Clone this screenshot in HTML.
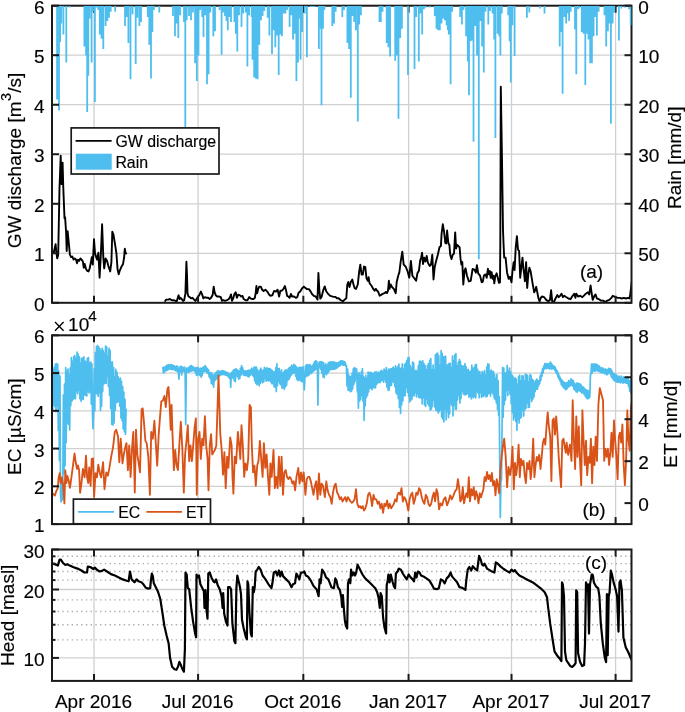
<!DOCTYPE html>
<html><head><meta charset="utf-8"><style>
html,body{margin:0;padding:0;background:#fff;}
svg{display:block;will-change:transform;}
text{font-family:"Liberation Sans", sans-serif;font-size:19px;fill:#000;stroke:#000;stroke-width:0.15px;}
</style></head><body>
<svg width="685" height="712" viewBox="0 0 685 712">
<defs><clipPath id="ca"><rect x="52.0" y="5.7" width="579.5" height="297.1"/></clipPath><clipPath id="cb"><rect x="52.0" y="335.3" width="579.5" height="188.8"/></clipPath><clipPath id="cc"><rect x="52.0" y="549.5" width="579.5" height="131.39999999999998"/></clipPath></defs>
<rect width="685" height="712" fill="#fff"/>
<line x1="94.0" y1="5.7" x2="94.0" y2="302.8" stroke="#d0d0d0" stroke-width="1.3"/><line x1="198.1" y1="5.7" x2="198.1" y2="302.8" stroke="#d0d0d0" stroke-width="1.3"/><line x1="303.3" y1="5.7" x2="303.3" y2="302.8" stroke="#d0d0d0" stroke-width="1.3"/><line x1="408.6" y1="5.7" x2="408.6" y2="302.8" stroke="#d0d0d0" stroke-width="1.3"/><line x1="511.5" y1="5.7" x2="511.5" y2="302.8" stroke="#d0d0d0" stroke-width="1.3"/><line x1="615.6" y1="5.7" x2="615.6" y2="302.8" stroke="#d0d0d0" stroke-width="1.3"/><line x1="94.0" y1="335.3" x2="94.0" y2="524.1" stroke="#d0d0d0" stroke-width="1.3"/><line x1="198.1" y1="335.3" x2="198.1" y2="524.1" stroke="#d0d0d0" stroke-width="1.3"/><line x1="303.3" y1="335.3" x2="303.3" y2="524.1" stroke="#d0d0d0" stroke-width="1.3"/><line x1="408.6" y1="335.3" x2="408.6" y2="524.1" stroke="#d0d0d0" stroke-width="1.3"/><line x1="511.5" y1="335.3" x2="511.5" y2="524.1" stroke="#d0d0d0" stroke-width="1.3"/><line x1="615.6" y1="335.3" x2="615.6" y2="524.1" stroke="#d0d0d0" stroke-width="1.3"/><line x1="94.0" y1="549.5" x2="94.0" y2="680.9" stroke="#d0d0d0" stroke-width="1.3"/><line x1="198.1" y1="549.5" x2="198.1" y2="680.9" stroke="#d0d0d0" stroke-width="1.3"/><line x1="303.3" y1="549.5" x2="303.3" y2="680.9" stroke="#d0d0d0" stroke-width="1.3"/><line x1="408.6" y1="549.5" x2="408.6" y2="680.9" stroke="#d0d0d0" stroke-width="1.3"/><line x1="511.5" y1="549.5" x2="511.5" y2="680.9" stroke="#d0d0d0" stroke-width="1.3"/><line x1="615.6" y1="549.5" x2="615.6" y2="680.9" stroke="#d0d0d0" stroke-width="1.3"/><line x1="52.0" y1="253.3" x2="631.5" y2="253.3" stroke="#d0d0d0" stroke-width="1.3"/><line x1="52.0" y1="203.8" x2="631.5" y2="203.8" stroke="#d0d0d0" stroke-width="1.3"/><line x1="52.0" y1="154.2" x2="631.5" y2="154.2" stroke="#d0d0d0" stroke-width="1.3"/><line x1="52.0" y1="104.7" x2="631.5" y2="104.7" stroke="#d0d0d0" stroke-width="1.3"/><line x1="52.0" y1="55.2" x2="631.5" y2="55.2" stroke="#d0d0d0" stroke-width="1.3"/><line x1="52.0" y1="486.3" x2="631.5" y2="486.3" stroke="#d0d0d0" stroke-width="1.3"/><line x1="52.0" y1="448.6" x2="631.5" y2="448.6" stroke="#d0d0d0" stroke-width="1.3"/><line x1="52.0" y1="410.8" x2="631.5" y2="410.8" stroke="#d0d0d0" stroke-width="1.3"/><line x1="52.0" y1="373.1" x2="631.5" y2="373.1" stroke="#d0d0d0" stroke-width="1.3"/><line x1="52.0" y1="657.9" x2="631.5" y2="657.9" stroke="#d0d0d0" stroke-width="1.3"/><line x1="52.0" y1="589.5" x2="631.5" y2="589.5" stroke="#d0d0d0" stroke-width="1.3"/><line x1="57.5" y1="639.9" x2="631.5" y2="639.9" stroke="#acacac" stroke-width="1.4" stroke-dasharray="1.4 3.33"/><line x1="57.5" y1="624.7" x2="631.5" y2="624.7" stroke="#acacac" stroke-width="1.4" stroke-dasharray="1.4 3.33"/><line x1="57.5" y1="611.5" x2="631.5" y2="611.5" stroke="#acacac" stroke-width="1.4" stroke-dasharray="1.4 3.33"/><line x1="57.5" y1="599.9" x2="631.5" y2="599.9" stroke="#acacac" stroke-width="1.4" stroke-dasharray="1.4 3.33"/><line x1="57.5" y1="580.1" x2="631.5" y2="580.1" stroke="#acacac" stroke-width="1.4" stroke-dasharray="1.4 3.33"/><line x1="57.5" y1="571.5" x2="631.5" y2="571.5" stroke="#acacac" stroke-width="1.4" stroke-dasharray="1.4 3.33"/><line x1="57.5" y1="563.6" x2="631.5" y2="563.6" stroke="#acacac" stroke-width="1.4" stroke-dasharray="1.4 3.33"/><line x1="57.5" y1="556.3" x2="631.5" y2="556.3" stroke="#acacac" stroke-width="1.4" stroke-dasharray="1.4 3.33"/><path d="M52.2 252.8 53.7 252.8 55.6 244.1 56.2 250.9 57.2 258.4 58.2 255.0 59.5 188.0 60.7 155.7 61.4 184.1 62.6 162.6 63.3 188.0 64.5 218.3 65.1 217.4 66.1 232.3 66.7 251.0 67.6 231.1 68.6 241.0 69.9 254.7 71.1 257.1 72.3 256.5 73.6 259.6 74.8 258.4 76.0 259.6 77.0 263.3 77.9 259.6 79.2 260.9 80.4 258.4 81.6 259.6 82.9 261.5 83.7 267.7 84.7 264.0 86.0 268.9 87.2 270.8 88.5 271.4 89.7 268.3 90.9 262.1 91.8 257.1 92.8 264.6 94.0 239.2 95.0 253.4 96.2 257.1 97.1 259.6 98.4 252.8 99.6 277.6 100.9 253.4 102.1 224.3 103.3 257.1 104.2 268.3 105.6 258.4 107.1 260.9 108.3 265.8 110.2 271.4 111.4 262.1 112.3 231.7 113.5 234.8 115.1 244.7 116.4 253.4 117.6 269.6 118.7 274.3 119.8 270.6 121.4 266.8 123.0 264.2 124.1 257.7 124.8 248.7 125.5 252.9 126.2 253.5M165.2 301.0 166.2 299.6 168.1 299.6 169.9 299.0 171.8 300.2 173.6 300.2 175.5 300.9 176.7 301.5 178.0 297.1 178.6 295.3 179.6 299.0 180.5 297.8 181.7 299.0 183.0 300.9 184.2 300.2 185.4 293.4 186.4 261.8 187.0 274.8 187.5 293.4 188.5 296.5 189.8 297.1 191.0 298.4 192.5 297.8 194.1 299.6 195.4 300.9 196.6 299.0 197.8 297.1 199.5 294.7 200.9 291.6 202.2 294.7 203.4 298.4 204.9 297.1 206.5 297.8 208.4 297.8 209.6 299.0 211.1 297.8 212.7 294.7 213.7 286.6 214.6 292.2 215.8 295.3 217.1 296.5 218.9 296.5 220.8 297.1 222.0 300.9 223.3 300.2 225.1 300.9 227.0 300.2 228.9 299.0 230.1 297.1 231.0 294.4 232.0 300.9 233.2 298.4 234.4 294.0 235.7 292.2 236.9 297.8 238.2 294.7 240.0 295.3 241.2 296.5 242.5 295.9 243.7 299.0 245.6 300.2 247.4 300.2 249.3 297.1 250.5 298.4 251.8 299.0 253.6 299.0 254.9 297.8 255.8 292.2 256.4 286.0 257.1 293.4 258.0 289.7 259.2 286.6 260.8 286.6 262.1 289.7 263.6 291.0 265.4 289.7 267.3 291.6 269.2 294.7 270.4 295.7 272.3 295.3 274.1 291.0 276.0 291.6 277.6 289.7 279.1 296.5 280.3 291.0 282.2 290.3 283.7 288.5 284.9 286.0 286.2 291.0 287.1 295.9 288.4 296.5 289.6 297.8 290.9 294.0 292.1 296.5 294.0 296.5 295.8 297.8 297.3 297.1 298.6 292.8 300.2 291.6 302.0 288.5 303.9 286.6 305.1 287.8 307.0 289.1 308.9 289.1 310.7 291.6 312.0 294.0 313.8 295.9 315.7 296.5 317.5 299.6 318.4 273.0 319.4 291.0 320.3 298.6 321.6 296.9 323.1 290.7 324.7 286.4 326.2 291.3 328.1 293.8 329.9 295.7 331.8 296.3 333.6 296.9 335.5 296.9 336.7 298.2 338.6 298.2 340.5 300.0 343.0 301.3 344.8 299.4 346.3 298.2 347.3 284.5 348.3 282.0 349.5 287.0 350.8 282.0 352.3 279.6 353.5 284.5 354.7 288.2 356.0 288.9 357.8 284.5 359.1 272.1 360.3 264.7 361.6 274.6 362.8 274.6 364.0 266.5 365.3 267.1 366.5 278.3 367.8 280.8 368.6 277.1 369.6 283.3 371.5 285.8 373.3 288.9 374.6 290.7 375.8 288.9 377.1 290.7 378.3 292.0 379.6 295.7 380.8 295.1 382.7 293.8 384.5 293.2 385.8 292.0 387.0 293.2 388.0 290.7 388.9 280.8 389.5 288.9 390.7 284.5 392.0 287.0 393.8 288.9 395.7 293.2 396.7 282.0 398.2 275.8 399.4 272.1 400.6 262.2 402.3 251.6 403.7 264.6 405.6 266.5 407.4 270.8 409.3 277.7 410.9 260.9 412.4 275.8 414.3 278.3 416.1 280.8 417.4 273.3 418.9 270.8 420.1 260.9 421.1 257.8 422.1 252.8 423.0 264.0 424.2 257.8 425.4 261.5 426.7 256.0 427.9 262.8 429.8 265.9 431.0 264.6 432.3 254.7 433.5 279.5 434.7 267.1 436.0 261.5 437.8 254.7 439.5 247.3 440.9 246.0 441.6 233.6 442.8 224.3 444.0 231.1 445.3 242.9 446.2 243.5 447.1 230.5 448.4 243.5 449.4 244.8 450.2 254.7 451.5 259.0 452.7 254.7 454.0 253.5 455.2 232.4 456.1 248.5 457.1 244.8 458.3 246.0 459.6 247.3 460.5 258.4 461.4 264.6 462.3 262.1 463.3 284.5 464.5 270.8 465.5 268.3 467.0 275.8 468.9 281.4 470.7 280.8 472.6 269.0 474.4 269.6 475.9 272.7 476.9 265.2 478.2 273.3 480.0 275.6 481.7 282.3 482.8 281.7 483.9 275.6 485.6 274.4 486.7 277.8 487.9 268.8 488.8 274.4 489.9 271.1 490.7 277.8 491.6 272.2 492.6 278.9 493.5 275.6 494.3 283.4 495.2 276.7 496.6 273.3 497.8 277.8 498.9 282.9 500.0 282.3 500.3 245.2 500.8 86.7 502.0 160.0 503.0 230.0 503.6 245.2 504.2 257.6 505.6 257.6 507.0 272.2 508.7 278.9 510.1 276.7 511.5 282.3 512.6 270.0 513.7 262.1 514.6 270.0 515.7 247.5 516.9 236.2 518.0 249.7 519.1 250.8 520.2 277.8 521.3 267.7 522.5 257.6 523.3 267.7 524.2 274.4 524.9 281.2 526.1 262.1 527.2 287.9 528.3 274.4 529.4 267.7 530.6 271.1 531.7 277.8 532.8 284.6 534.2 292.4 535.3 290.2 536.2 286.8 537.3 292.4 538.4 298.0 539.6 301.4 540.7 298.0 542.1 296.5 544.2 297.2 546.2 299.9 548.3 301.3 550.0 299.9 551.1 290.2 552.2 301.3 553.9 302.0 555.5 298.5 557.3 295.1 558.7 297.2 560.1 295.8 561.5 293.7 562.9 297.2 564.3 295.8 566.4 297.2 568.4 298.5 570.5 299.2 572.6 295.8 574.4 293.7 575.4 297.9 576.3 293.7 578.1 296.5 580.2 295.8 582.3 297.2 583.7 295.8 585.8 293.7 587.9 292.3 589.2 294.4 590.6 285.4 591.6 293.0 592.7 299.9 594.4 295.8 595.5 294.4 596.9 298.5 598.9 299.2 601.0 300.6 603.1 300.6 605.2 302.0 607.3 300.6 609.3 299.9 611.4 297.9 612.8 295.8 614.2 296.5 615.6 297.2 617.7 297.9 619.7 297.9 621.8 298.5 623.9 297.9 626.0 298.5 628.1 297.9 629.5 298.5 630.2 294.4 631.1 287.4 632.0 280.0" fill="none" stroke="#000" stroke-width="1.9" stroke-linejoin="round" stroke-linecap="round" clip-path="url(#ca)" /><path d="M52.0 367.3 52.6 409.8 53.1 369.4 53.7 405.0 54.3 367.2 54.9 406.6 55.4 364.0 56.0 411.8 56.6 363.7 57.1 405.8 57.7 364.4 58.3 430.5 58.8 371.2 59.4 460.5 60.0 376.0 60.5 494.2 61.1 502.0 61.7 478.3 62.3 500.0 62.8 487.8 63.4 395.1 64.0 473.4 64.5 384.2 65.1 465.4 65.7 367.5 66.2 442.4 66.8 371.0 67.4 422.8 68.0 369.0 68.5 424.4 69.1 375.0 69.7 430.0 70.2 368.2 70.8 405.7 71.4 357.6 72.0 401.1 72.5 361.3 73.1 399.3 73.7 356.5 74.2 398.3 74.8 355.7 75.4 398.8 75.9 358.7 76.5 391.8 77.1 352.1 77.7 393.8 78.2 354.2 78.8 390.1 79.4 356.9 79.9 398.6 80.5 363.1 81.1 401.3 81.6 358.3 82.2 398.9 82.8 358.2 83.3 399.4 83.9 356.8 84.5 394.9 85.1 361.2 85.6 395.2 86.2 362.0 86.8 395.9 87.3 358.3 87.9 390.7 88.5 357.5 89.0 393.0 89.6 363.0 90.2 391.8 90.8 362.1 91.3 404.1 91.9 363.8 92.5 415.2 93.0 428.7 93.6 412.7 94.2 368.9 94.8 411.0 95.3 352.6 95.9 393.5 96.5 346.5 97.0 393.7 97.6 345.5 98.2 396.3 98.7 346.9 99.3 392.6 99.9 348.5 100.5 410.3 101.0 351.1 101.6 406.1 102.2 348.3 102.7 391.6 103.3 350.5 103.9 383.9 104.4 353.3 105.0 383.1 105.6 346.2 106.2 383.4 106.7 346.9 107.3 376.3 107.9 356.3 108.4 386.5 109.0 348.3 109.6 395.4 110.1 350.3 110.7 408.5 111.3 362.1 111.8 424.3 112.4 362.0 113.0 424.9 113.6 367.5 114.1 423.0 114.7 377.1 115.3 410.5 115.8 369.4 116.4 402.4 117.0 372.2 117.5 402.1 118.1 376.7 118.7 401.7 119.3 379.0 119.8 406.2 120.4 378.0 121.0 418.0 121.5 381.4 122.1 420.7 122.7 386.5 123.2 428.8 123.8 392.2 124.4 431.7 125.0 399.4 125.5 434.3 126.1 409.3M162.9 367.5 163.5 372.9 164.0 367.0 164.6 372.0 165.2 367.1 165.8 370.6 166.3 365.6 166.9 370.5 167.5 365.2 168.0 369.9 168.6 364.6 169.2 368.8 169.7 365.2 170.3 369.1 170.9 364.7 171.4 369.5 172.0 364.9 172.6 369.6 173.2 365.5 173.7 369.2 174.3 365.9 174.9 370.4 175.4 366.9 176.0 370.7 176.6 366.2 177.2 371.3 177.7 366.3 178.3 371.8 178.9 379.2 179.4 371.1 180.0 366.8 180.6 371.9 181.1 366.2 181.7 375.0 182.3 367.2 182.8 371.4 183.4 367.6 184.0 371.6 184.6 367.2 185.1 371.3 185.7 424.4 186.3 371.5 186.8 368.1 187.4 371.9 188.0 368.1 188.6 372.4 189.1 367.0 189.7 371.6 190.3 365.8 190.8 371.1 191.4 365.5 192.0 370.9 192.5 366.7 193.1 370.1 193.7 367.0 194.2 370.8 194.8 368.4 195.4 372.7 196.0 367.7 196.5 375.4 197.1 367.6 197.7 374.9 198.2 367.6 198.8 374.4 199.4 369.0 199.9 375.5 200.5 368.0 201.1 377.2 201.7 368.5 202.2 375.6 202.8 367.3 203.4 372.0 203.9 366.9 204.5 371.3 205.1 365.7 205.7 371.2 206.2 367.0 206.8 372.7 207.4 368.7 207.9 373.4 208.5 369.8 209.1 376.7 209.6 372.7 210.2 378.4 210.8 372.5 211.3 383.1 211.9 373.0 212.5 384.5 213.1 375.6 213.6 387.1 214.2 374.7 214.8 380.8 215.3 373.1 215.9 379.7 216.5 372.1 217.1 378.5 217.6 370.9 218.2 375.8 218.8 371.0 219.3 376.0 219.9 371.5 220.5 375.4 221.0 371.2 221.6 374.3 222.2 370.6 222.8 374.7 223.3 370.9 223.9 374.5 224.5 371.4 225.0 374.8 225.6 371.7 226.2 375.3 226.7 372.7 227.3 375.7 227.9 372.7 228.4 376.9 229.0 373.9 229.6 378.5 230.2 374.4 230.7 387.4 231.3 372.8 231.9 378.1 232.4 371.4 233.0 377.7 233.6 369.9 234.2 380.7 234.7 369.5 235.3 381.6 235.9 368.5 236.4 376.5 237.0 369.8 237.6 376.7 238.1 370.4 238.7 379.1 239.3 371.4 239.8 378.5 240.4 368.3 241.0 375.1 241.6 365.5 242.1 373.1 242.7 367.9 243.3 375.0 243.8 370.5 244.4 375.4 245.0 370.8 245.6 375.4 246.1 371.1 246.7 375.6 247.3 370.9 247.8 376.5 248.4 370.1 249.0 377.0 249.5 370.6 250.1 375.5 250.7 369.7 251.2 373.8 251.8 368.0 252.4 375.1 253.0 369.3 253.5 376.6 254.1 367.0 254.7 380.9 255.2 367.2 255.8 383.2 256.4 367.2 256.9 384.7 257.5 369.5 258.1 383.8 258.7 371.6 259.2 386.0 259.8 370.1 260.4 383.3 260.9 368.1 261.5 381.1 262.1 370.9 262.6 382.8 263.2 370.2 263.8 381.7 264.4 367.3 264.9 378.4 265.5 369.1 266.1 381.1 266.6 367.9 267.2 380.1 267.8 368.3 268.4 381.0 268.9 368.6 269.5 380.3 270.1 368.7 270.6 381.7 271.2 369.8 271.8 383.7 272.3 370.6 272.9 383.7 273.5 372.0 274.1 386.7 274.6 371.8 275.2 387.5 275.8 367.7 276.3 391.6 276.9 363.7 277.5 385.6 278.0 368.9 278.6 381.1 279.2 368.4 279.8 383.8 280.3 372.1 280.9 384.8 281.5 369.8 282.0 388.2 282.6 373.3 283.2 387.6 283.7 372.1 284.3 389.5 284.9 370.4 285.4 386.9 286.0 369.9 286.6 385.3 287.2 370.7 287.7 380.5 288.3 368.3 288.9 379.4 289.4 367.8 290.0 377.5 290.6 367.0 291.1 375.1 291.7 365.0 292.3 373.8 292.9 366.3 293.4 373.2 294.0 364.4 294.6 372.7 295.1 365.4 295.7 376.3 296.3 366.7 296.9 379.5 297.4 368.0 298.0 380.6 298.6 367.8 299.1 379.4 299.7 367.4 300.3 380.7 300.8 367.3 301.4 381.5 302.0 367.4 302.6 381.7 303.1 366.9 303.7 379.4 304.3 390.0 304.8 380.2 305.4 366.1 306.0 376.6 306.5 364.8 307.1 375.8 307.7 364.7 308.2 375.6 308.8 365.4 309.4 374.7 310.0 364.5 310.5 373.2 311.1 366.3 311.7 373.3 312.2 365.9 312.8 371.7 313.4 364.1 313.9 370.9 314.5 361.9 315.1 369.8 315.7 360.7 316.2 369.1 316.8 361.6 317.4 368.4 317.9 405.1 318.5 368.2 319.1 362.0 319.6 367.6 320.2 361.9 320.8 369.5 321.4 361.6 321.9 373.1 322.5 362.3 323.1 376.9 323.6 362.7 324.2 377.7 324.8 365.4 325.4 373.5 325.9 363.8 326.5 374.7 327.1 365.6 327.6 373.1 328.2 363.0 328.8 371.8 329.3 362.2 329.9 369.8 330.5 361.8 331.1 369.5 331.6 362.0 332.2 369.4 332.8 361.9 333.3 369.2 333.9 362.2 334.5 369.1 335.0 362.3 335.6 368.7 336.2 362.8 336.8 368.2 337.3 363.2 337.9 367.1 338.5 362.4 339.0 366.1 339.6 361.8 340.2 365.6 340.7 360.8 341.3 364.5 341.9 360.7 342.4 364.9 343.0 361.1 343.6 365.2 344.2 361.7 344.7 365.1 345.3 362.6 345.9 366.3 346.4 365.5 347.0 385.9 347.6 369.0 348.1 390.2 348.7 374.9 349.3 390.4 349.9 376.7 350.4 391.8 351.0 376.3 351.6 391.1 352.1 373.3 352.7 388.9 353.3 368.8 353.9 384.4 354.4 367.6 355.0 381.6 355.6 368.4 356.1 378.0 356.7 369.1 357.3 391.9 357.8 374.4 358.4 408.2 359.0 372.5 359.6 401.0 360.1 375.3 360.7 399.5 361.3 371.9 361.8 395.4 362.4 368.6 363.0 401.2 363.5 376.3 364.1 420.3 364.7 377.9 365.2 406.0 365.8 375.4 366.4 397.6 367.0 378.6 367.5 395.5 368.1 372.2 368.7 391.8 369.2 372.7 369.8 388.0 370.4 372.4 370.9 388.4 371.5 372.5 372.1 389.7 372.7 373.8 373.2 387.5 373.8 373.2 374.4 388.0 374.9 372.1 375.5 387.8 376.1 371.7 376.6 384.5 377.2 373.0 377.8 382.8 378.4 372.0 378.9 382.5 379.5 372.5 380.1 382.6 380.6 371.1 381.2 381.0 381.8 370.4 382.4 380.1 382.9 371.9 383.5 382.1 384.1 369.2 384.6 379.4 385.2 370.7 385.8 382.1 386.3 367.7 386.9 387.0 387.5 371.3 388.1 390.1 388.6 369.0 389.2 390.2 389.8 369.4 390.3 385.9 390.9 368.8 391.5 385.2 392.0 368.6 392.6 381.6 393.2 367.1 393.8 382.5 394.3 368.5 394.9 386.6 395.5 365.9 396.0 392.8 396.6 368.3 397.2 394.4 397.7 366.6 398.3 398.5 398.9 364.2 399.4 407.4 400.0 368.6 400.6 413.4 401.2 368.2 401.7 404.7 402.3 363.8 402.9 400.9 403.4 369.3 404.0 395.5 404.6 364.5 405.1 395.8 405.7 363.2 406.3 387.4 406.9 360.6 407.4 392.2 408.0 357.7 408.6 396.1 409.1 357.7 409.7 401.9 410.3 365.7 410.9 400.5 411.4 368.1 412.0 399.0 412.6 362.0 413.1 395.3 413.7 363.0 414.3 395.9 414.8 370.9 415.4 392.7 416.0 370.4 416.6 397.0 417.1 371.1 417.7 394.0 418.3 365.9 418.8 397.5 419.4 361.3 420.0 397.7 420.5 361.0 421.1 397.9 421.7 362.2 422.2 403.9 422.8 360.8 423.4 397.6 424.0 363.6 424.5 404.8 425.1 365.5 425.7 406.4 426.2 369.8 426.8 398.6 427.4 365.5 427.9 404.0 428.5 363.6 429.1 406.0 429.7 360.4 430.2 409.9 430.8 358.6 431.4 409.1 431.9 370.1 432.5 406.5 433.1 365.0 433.6 400.1 434.2 370.0 434.8 406.9 435.4 354.8 435.9 410.2 436.5 353.5 437.1 410.6 437.6 353.0 438.2 412.8 438.8 355.5 439.4 411.3 439.9 365.5 440.5 409.5 441.1 350.7 441.6 416.9 442.2 353.4 442.8 418.8 443.3 356.6 443.9 421.8 444.5 356.6 445.1 408.9 445.6 356.4 446.2 419.8 446.8 365.5 447.3 411.3 447.9 364.5 448.5 417.5 449.0 363.5 449.6 413.8 450.2 363.3 450.8 403.7 451.3 367.5 451.9 405.5 452.5 356.0 453.0 415.8 453.6 360.8 454.2 405.1 454.7 355.1 455.3 409.2 455.9 353.5 456.4 409.1 457.0 365.8 457.6 400.0 458.2 362.3 458.7 395.2 459.3 359.3 459.9 403.1 460.4 361.3 461.0 398.6 461.6 365.6 462.1 391.5 462.7 366.0 463.3 394.0 463.9 366.2 464.4 394.6 465.0 363.7 465.6 395.0 466.1 366.9 466.7 394.2 467.3 369.9 467.9 393.2 468.4 369.4 469.0 397.3 469.6 371.8 470.1 396.2 470.7 371.2 471.3 399.0 471.8 365.2 472.4 396.9 473.0 368.7 473.6 397.8 474.1 367.4 474.7 396.1 475.3 364.7 475.8 397.8 476.4 364.6 477.0 391.6 477.5 369.4 478.1 393.1 478.7 371.5 479.2 397.8 479.8 371.7 480.4 392.7 481.0 375.3 481.5 397.3 482.1 371.5 482.7 396.2 483.2 373.1 483.8 396.5 484.4 370.6 484.9 394.7 485.5 375.3 486.1 396.9 486.7 366.9 487.2 396.5 487.8 363.9 488.4 393.8 488.9 364.3 489.5 393.1 490.1 371.3 490.6 396.1 491.2 370.0 491.8 392.1 492.4 371.4 492.9 394.0 493.5 371.7 494.1 397.8 494.6 374.8 495.2 399.7 495.8 378.4 496.4 403.2 496.9 374.5 497.5 409.5 498.1 380.7 498.6 415.2 499.2 396.8 499.8 470.0 500.3 517.5 500.9 481.1 501.5 480.0 502.1 419.4 502.6 367.5 503.2 417.2 503.8 368.2 504.3 404.6 504.9 373.0 505.5 400.1 506.0 372.9 506.6 390.4 507.2 365.4 507.8 395.6 508.3 370.9 508.9 389.6 509.5 368.1 510.0 394.3 510.6 371.9 511.2 403.6 511.7 374.6 512.3 412.4 512.9 376.2 513.5 420.0 514.0 378.3 514.6 417.2 515.2 377.9 515.7 421.3 516.3 379.0 516.9 430.3 517.4 384.4 518.0 419.4 518.6 376.6 519.1 423.0 519.7 375.0 520.3 418.2 520.9 380.8 521.4 417.1 522.0 375.9 522.6 410.1 523.1 375.8 523.7 415.9 524.3 381.1 524.9 410.0 525.4 374.0 526.0 408.2 526.6 374.5 527.1 402.9 527.7 375.9 528.3 407.6 528.8 381.8 529.4 407.2 530.0 374.6 530.5 398.0 531.1 375.5 531.7 401.6 532.3 379.3 532.8 399.3 533.4 380.4 534.0 396.9 534.5 383.0 535.1 391.6 535.7 380.6 536.2 389.1 536.8 379.0 537.4 389.3 538.0 380.6 538.5 385.8 539.1 380.8 539.7 383.8 540.2 375.9 540.8 380.5 541.4 372.5 542.0 376.1 542.5 368.8 543.1 372.8 543.7 366.2 544.2 369.2 544.8 363.5 545.4 368.4 545.9 363.5 546.5 368.6 547.1 364.2 547.6 367.9 548.2 363.8 548.8 368.7 549.4 363.6 549.9 368.8 550.5 362.0 551.1 369.0 551.6 363.5 552.2 368.9 552.8 365.3 553.4 368.3 553.9 366.2 554.5 369.9 555.1 367.2 555.6 372.2 556.2 369.3 556.8 374.0 557.3 371.2 557.9 376.8 558.5 373.4 559.0 379.2 559.6 376.0 560.2 381.7 560.8 378.7 561.3 384.6 561.9 380.1 562.5 386.2 563.0 381.3 563.6 387.9 564.2 382.3 564.8 388.7 565.3 383.1 565.9 389.8 566.5 382.5 567.0 388.8 567.6 382.7 568.2 387.2 568.7 380.7 569.3 386.5 569.9 381.1 570.5 385.7 571.0 378.9 571.6 384.9 572.2 380.1 572.7 386.1 573.3 380.7 573.9 389.2 574.4 383.2 575.0 390.1 575.6 384.3 576.1 391.8 576.7 383.0 577.3 392.1 577.9 383.0 578.4 390.4 579.0 383.8 579.6 390.9 580.1 383.9 580.7 391.6 581.3 385.2 581.9 393.3 582.4 386.9 583.0 392.4 583.6 387.1 584.1 394.4 584.7 388.8 585.3 396.5 585.8 389.6 586.4 398.0 587.0 390.4 587.5 398.8 588.1 391.0 588.7 398.5 589.3 390.4 589.8 397.1 590.4 375.4 591.0 373.8 591.5 364.2 592.1 373.3 592.7 364.0 593.2 371.0 593.8 364.2 594.4 371.3 595.0 363.9 595.5 370.9 596.1 364.5 596.7 370.3 597.2 364.3 597.8 371.0 598.4 365.8 599.0 371.4 599.5 366.2 600.1 372.0 600.7 368.1 601.2 372.6 601.8 367.9 602.4 372.9 602.9 368.2 603.5 372.6 604.1 369.5 604.6 373.7 605.2 368.9 605.8 373.8 606.4 369.5 606.9 375.0 607.5 369.9 608.1 373.6 608.6 368.3 609.2 372.4 609.8 368.5 610.4 374.6 610.9 369.0 611.5 377.1 612.1 371.0 612.6 378.6 613.2 373.3 613.8 380.3 614.3 373.6 614.9 380.9 615.5 374.6 616.0 381.8 616.6 375.2 617.2 381.8 617.8 376.7 618.3 382.5 618.9 376.0 619.5 381.8 620.0 377.3 620.6 383.0 621.2 376.2 621.8 382.0 622.3 378.0 622.9 383.2 623.5 376.9 624.0 382.5 624.6 377.5 625.2 382.7 625.7 377.9 626.3 383.1 626.9 377.3 627.5 383.3 628.0 377.4 628.6 386.7 629.2 381.1 629.7 391.1 630.3 380.1 630.9 393.2 631.4 377.9" fill="none" stroke="#4dbeee" stroke-width="1.7" stroke-linejoin="round" stroke-linecap="round" clip-path="url(#cb)" /><path d="M52.0 492.8 53.4 494.2 54.8 495.6 56.2 491.4 57.6 488.6 58.7 477.4 59.7 473.2 60.7 483.0 61.8 477.4 63.2 485.8 64.4 503.4 65.3 470.3 66.5 483.0 67.4 476.0 68.6 480.2 70.0 487.9 71.4 477.4 73.1 464.7 74.5 453.5 75.9 463.3 77.0 468.9 78.0 465.4 79.1 470.3 80.1 492.8 81.5 483.0 82.9 468.9 84.6 477.4 86.0 455.6 87.1 477.4 88.2 483.0 89.2 467.5 90.6 485.8 91.7 459.1 93.0 458.4 94.1 497.0 95.5 473.2 96.9 477.4 98.3 464.7 99.8 473.2 101.2 477.4 101.8 472.4 103.1 462.2 104.5 489.2 106.3 472.4 107.9 475.7 109.4 467.9 111.2 456.6 113.0 447.6 114.8 431.9 116.2 429.7 118.0 436.4 119.3 462.2 120.7 438.7 122.5 463.4 123.8 454.4 125.2 447.6 126.5 443.1 127.9 470.1 129.2 445.4 130.6 476.9 131.9 449.9 133.3 431.9 134.8 492.6 136.0 429.7 137.3 454.4 138.7 463.4 140.0 472.4 141.6 409.4 142.7 408.3 144.0 422.9 145.4 440.9 146.7 443.1 148.3 456.6 149.9 494.8 151.2 431.9 152.8 438.7 154.4 420.7 155.6 440.0 157.2 465.6 158.6 436.4 159.9 418.4 161.3 401.6 162.9 400.4 164.4 396.0 165.8 407.2 167.4 389.2 168.5 387.0 169.6 404.9 170.7 429.7 171.6 404.9 172.5 434.2 173.9 470.1 175.2 449.9 176.6 465.6 177.9 470.1 179.3 445.4 180.8 421.8 182.4 449.9 183.8 492.6 185.1 454.4 186.5 440.9 187.8 425.2 189.2 461.1 190.5 445.4 191.9 461.1 193.2 445.4 194.6 427.4 195.9 418.4 196.8 494.8 198.1 438.7 199.5 431.9 200.8 458.9 202.2 438.7 203.5 445.4 204.9 416.2 206.2 445.4 207.6 458.9 208.5 490.3 209.8 445.4 211.1 434.2 212.2 454.4 213.6 452.1 214.9 449.9 216.3 445.4 217.6 404.9 218.5 375.7 219.4 404.9 220.3 434.2 221.7 449.9 223.0 474.6 224.4 452.1 225.7 488.1 227.1 456.6 228.4 467.9 230.2 437.5 231.6 445.4 232.5 476.9 233.4 493.7 234.7 456.6 236.1 463.4 237.9 431.9 239.2 445.4 240.3 458.9 241.5 425.2 242.8 445.4 244.2 476.9 245.5 463.4 246.9 470.1 248.2 458.9 249.6 404.9 250.9 407.2 251.8 445.4 253.1 472.4 254.5 465.6 255.8 485.8 257.2 465.6 258.5 461.1 259.9 440.9 261.2 458.9 262.6 476.9 263.9 443.1 265.3 467.9 266.6 454.4 268.0 476.9 269.3 494.8 270.4 463.4 271.7 476.9 273.5 449.9 274.9 488.1 276.2 476.9 277.6 488.1 278.9 456.6 280.3 485.8 281.6 456.6 283.0 494.8 284.3 472.4 285.7 470.1 287.0 476.9 288.4 479.1 289.7 476.9 291.1 479.1 292.4 483.6 293.8 481.3 295.1 490.3 296.5 476.9 298.3 467.9 299.6 483.6 301.0 472.4 302.3 481.3 303.7 472.4 305.4 494.8 306.8 479.1 308.1 476.9 309.5 476.9 310.8 481.3 312.2 488.1 313.5 494.8 314.9 485.8 316.2 481.3 317.6 499.3 318.9 473.5 320.3 494.8 321.6 483.6 323.0 485.8 324.9 497.1 326.3 481.3 327.6 490.3 329.0 494.8 330.3 497.1 331.7 503.8 333.0 492.6 334.4 485.8 335.7 483.6 337.1 492.6 338.4 494.8 339.8 499.3 341.1 497.1 342.5 501.6 343.8 499.3 345.2 497.1 346.5 501.6 347.9 497.1 349.2 499.3 350.6 501.6 351.9 502.7 353.3 501.6 354.6 499.3 356.0 489.2 357.3 503.8 358.7 507.2 360.0 506.1 361.3 508.3 362.7 506.1 364.0 510.6 365.4 508.3 366.7 503.8 368.1 494.8 369.4 492.6 370.8 497.1 372.1 506.1 373.5 494.8 374.8 499.3 376.3 499.3 377.7 503.8 379.0 501.6 380.4 508.3 381.7 503.8 383.1 512.8 384.4 503.8 385.8 506.1 387.1 500.4 388.5 508.3 389.8 503.8 391.2 508.3 392.5 506.1 393.9 503.8 395.2 499.3 396.6 501.6 397.5 494.8 398.8 492.6 400.2 494.8 401.5 488.1 402.9 501.6 404.2 497.1 405.6 499.3 406.9 503.8 408.3 510.6 409.6 499.3 411.0 494.8 412.3 492.6 413.7 503.8 415.0 499.3 416.3 492.6 417.7 494.8 419.0 488.1 420.4 490.3 421.7 497.1 423.1 501.6 424.4 503.8 425.8 494.8 427.1 497.1 428.5 503.8 429.8 506.1 431.2 503.8 432.5 497.1 433.9 492.6 435.1 501.4 436.5 489.2 437.7 493.3 439.1 509.4 440.5 503.4 442.1 505.4 443.8 499.3 445.4 497.3 447.0 505.4 448.6 501.4 450.2 495.3 451.8 499.3 453.5 495.3 455.1 491.2 456.7 489.2 457.9 479.1 459.1 487.2 460.3 501.4 461.6 499.3 462.8 487.2 464.0 503.4 465.2 497.3 466.4 493.3 467.6 497.3 468.8 477.1 470.0 501.4 471.3 489.2 472.5 495.3 473.7 487.2 474.9 499.3 476.1 491.2 477.3 495.3 478.5 503.4 479.8 493.3 481.0 497.3 482.2 493.3 483.4 489.2 484.6 477.1 485.8 481.1 487.0 472.0 488.3 479.1 489.5 475.1 490.7 481.1 491.9 473.0 493.1 485.2 494.3 481.1 495.5 495.3 496.7 479.1 498.0 485.2 499.2 493.3 500.4 469.0 501.8 454.8 503.2 444.7 504.2 438.7 505.7 456.9 507.1 487.2 508.5 467.0 510.1 475.1 511.3 467.0 512.5 446.7 513.8 489.2 515.0 462.9 516.2 475.1 517.4 465.0 518.6 444.7 519.8 477.1 521.0 458.9 522.2 465.0 523.5 460.9 524.7 475.1 525.9 483.2 527.1 462.9 528.3 469.0 529.5 460.9 530.7 479.1 532.0 465.0 533.2 438.7 534.4 477.1 535.6 465.0 536.8 456.9 538.0 460.9 539.2 454.8 540.5 469.0 541.7 456.9 542.9 442.7 544.1 438.7 545.3 444.7 546.5 426.5 547.7 412.4 548.9 426.5 550.2 436.6 551.4 481.1 552.6 420.5 553.8 418.4 555.0 434.6 556.2 416.4 557.4 432.6 558.7 456.9 559.9 473.0 561.1 487.2 562.3 440.7 563.5 438.7 564.7 446.7 565.9 452.8 566.6 442.7 568.2 454.8 569.9 444.7 571.5 460.9 572.7 400.2 573.9 440.7 575.1 469.0 576.3 416.4 577.5 456.9 578.8 426.5 580.0 460.9 581.2 485.2 582.4 410.3 583.6 440.7 584.8 465.0 586.0 440.7 587.2 475.1 588.5 456.9 589.7 462.9 590.9 438.7 592.1 483.2 593.3 446.7 594.5 465.0 595.7 436.6 597.0 460.9 598.4 404.3 599.8 388.1 601.4 394.2 603.0 400.2 604.2 460.9 605.5 448.8 606.7 456.9 607.9 448.8 609.1 465.0 610.3 452.8 611.5 432.6 612.7 456.9 614.0 420.5 615.2 440.7 616.4 456.9 617.6 479.1 618.8 436.6 620.0 432.6 621.2 442.7 622.4 424.5 623.7 465.0 624.9 485.2 626.1 460.9 627.3 410.3 628.5 440.7 629.7 450.8 630.9 408.3 632.2 400.2" fill="none" stroke="#d95319" stroke-width="1.85" stroke-linejoin="round" stroke-linecap="round" clip-path="url(#cb)" /><path d="M52.0 563.2 53.0 563.7 55.9 564.6 57.9 565.6 59.5 559.7 60.8 559.7 62.8 562.7 65.4 565.0 67.3 564.3 69.7 565.6 73.6 567.2 77.5 568.6 81.5 570.5 84.4 572.5 87.0 572.5 87.8 566.6 90.3 567.0 93.3 569.0 94.8 567.6 96.8 569.6 99.5 571.5 102.1 570.9 104.1 569.6 107.0 571.5 110.9 574.1 114.9 575.5 118.8 577.4 122.7 579.4 126.7 580.8 128.6 581.3 130.0 571.5 131.6 579.4 134.5 582.3 136.5 579.4 138.4 581.3 141.4 582.3 143.4 584.3 145.9 587.8 148.3 588.6 150.2 588.2 150.9 580.4 151.9 573.5 152.9 576.4 153.8 583.3 155.8 587.2 157.8 591.2 160.3 599.0 162.3 611.8 164.3 625.5 166.6 635.4 168.6 643.2 170.1 658.0 172.1 666.8 174.5 669.2 176.4 669.8 178.0 666.8 179.4 661.9 180.8 664.8 182.3 668.8 183.9 671.7 184.9 649.1 185.5 572.5 186.7 574.5 187.8 588.2 189.2 589.2 191.2 607.9 193.1 621.6 195.1 633.4 196.1 637.3 196.5 574.5 197.7 577.4 199.0 575.5 200.4 584.3 202.4 588.2 203.9 591.2 204.5 607.9 205.5 590.2 206.3 607.9 207.5 618.7 208.3 573.5 209.8 572.5 211.4 577.4 213.4 581.3 214.7 582.3 216.1 579.4 217.7 585.3 219.7 589.2 221.6 596.1 222.6 607.9 223.2 593.1 224.2 613.8 225.9 621.6 227.5 625.5 228.1 587.2 229.9 587.2 231.1 589.2 232.4 623.6 234.4 641.3 235.4 643.2 236.4 588.2 237.3 575.5 238.9 582.3 240.0 587.2 241.0 594.1 242.0 619.7 243.5 627.5 245.9 637.3 246.9 639.3 247.5 581.3 248.3 584.3 249.4 611.8 250.8 633.4 251.8 636.4 252.8 587.2 253.8 592.2 254.7 587.2 255.7 571.5 257.3 569.6 258.7 567.0 260.6 569.6 262.6 575.5 265.5 579.4 268.5 584.3 271.4 588.2 272.4 583.3 273.8 572.5 275.8 571.5 277.3 575.5 278.9 570.5 280.3 576.4 281.7 571.5 283.2 576.4 286.2 579.4 289.1 582.3 291.5 587.2 293.0 584.3 295.0 583.3 296.4 573.5 298.0 576.4 299.3 579.4 300.9 572.5 302.9 572.5 304.4 571.5 305.8 575.5 307.8 576.4 310.7 580.4 313.7 586.3 316.6 589.2 318.6 596.1 319.6 579.4 320.6 583.3 322.1 569.6 324.1 572.5 326.0 577.4 328.4 579.4 331.4 587.2 333.9 588.2 335.3 578.4 336.6 581.3 337.9 587.2 339.9 590.2 341.3 597.1 342.1 606.9 342.9 595.1 343.8 607.9 344.8 619.7 345.8 625.5 347.2 628.5 348.0 583.3 349.1 579.4 350.3 583.3 351.1 569.6 352.3 575.5 353.7 572.5 355.0 575.5 356.2 572.5 357.6 564.6 359.0 567.6 360.5 570.5 362.5 574.5 364.5 577.4 367.4 580.4 370.4 583.3 373.3 586.3 375.3 588.2 377.2 592.2 378.6 598.0 379.8 607.9 380.6 593.1 381.8 596.1 383.1 617.7 384.5 627.5 386.1 633.4 386.7 585.3 387.7 580.4 388.4 574.5 389.6 582.3 390.8 574.5 392.4 581.3 393.9 586.3 395.1 588.2 395.9 573.5 397.5 571.5 398.9 568.6 400.8 569.6 402.8 573.5 404.7 576.4 406.7 579.4 408.7 574.5 410.6 577.4 412.6 579.4 414.0 581.3 415.2 572.5 416.5 577.4 417.9 571.5 419.5 572.5 421.1 575.5 423.4 576.4 426.4 578.4 429.3 580.4 431.7 584.3 433.9 588.6 436.9 589.2 438.8 588.2 440.8 579.4 442.8 580.4 444.7 583.3 446.7 578.4 448.7 576.4 450.6 572.5 452.0 576.4 454.6 579.4 457.1 582.3 459.5 587.2 462.4 587.8 465.4 589.8 466.3 580.4 467.7 569.6 469.3 567.0 471.3 570.5 472.8 566.2 474.8 568.6 477.2 570.5 479.1 555.8 480.7 559.7 482.1 564.6 483.4 565.6 484.6 563.7 487.0 568.6 490.9 570.9 494.4 572.5 495.8 562.3 497.8 563.7 500.7 566.6 503.7 569.0 506.6 570.9 509.6 572.5 511.5 569.6 513.5 571.5 514.9 570.1 516.4 572.5 519.4 575.5 523.3 577.4 525.0 578.5 528.9 580.4 532.9 582.4 536.8 585.4 540.7 588.3 544.7 592.2 547.0 597.2 548.2 608.0 550.2 623.7 552.6 639.5 554.5 651.3 556.9 655.2 559.4 658.2 561.4 661.1 562.0 582.4 562.8 584.4 564.0 596.2 565.0 651.3 566.3 660.2 568.3 663.1 570.3 666.1 572.2 667.0 574.2 665.1 575.6 663.1 576.2 590.3 577.2 592.2 578.1 653.3 580.1 662.1 582.1 666.1 584.1 665.1 585.0 643.4 586.0 582.4 587.0 590.3 588.0 584.4 589.0 633.6 590.0 584.4 590.9 579.4 591.9 573.5 592.9 575.5 593.9 582.4 595.9 586.3 598.2 588.3 599.4 596.2 600.8 623.7 602.8 643.4 604.7 657.2 606.1 662.1 606.9 594.2 607.7 655.2 608.7 596.2 609.6 592.2 610.8 570.6 612.0 574.5 613.6 582.4 615.6 589.3 617.1 596.2 618.5 631.6 619.5 582.4 620.5 580.4 621.9 590.3 623.4 637.5 625.8 647.4 628.3 652.3 631.3 659.2 632.5 661.0" fill="none" stroke="#000" stroke-width="2.2" stroke-linejoin="round" stroke-linecap="round" clip-path="url(#cc)" /><rect x="52.0" y="5.7" width="579.5" height="297.1" fill="none" stroke="#1a1a1a" stroke-width="2.0"/><line x1="94.00" y1="302.80" x2="94.00" y2="295.80" stroke="#1a1a1a" stroke-width="2.0"/><line x1="94.00" y1="5.70" x2="94.00" y2="12.70" stroke="#1a1a1a" stroke-width="2.0"/><line x1="198.09" y1="302.80" x2="198.09" y2="295.80" stroke="#1a1a1a" stroke-width="2.0"/><line x1="198.09" y1="5.70" x2="198.09" y2="12.70" stroke="#1a1a1a" stroke-width="2.0"/><line x1="303.33" y1="302.80" x2="303.33" y2="295.80" stroke="#1a1a1a" stroke-width="2.0"/><line x1="303.33" y1="5.70" x2="303.33" y2="12.70" stroke="#1a1a1a" stroke-width="2.0"/><line x1="408.56" y1="302.80" x2="408.56" y2="295.80" stroke="#1a1a1a" stroke-width="2.0"/><line x1="408.56" y1="5.70" x2="408.56" y2="12.70" stroke="#1a1a1a" stroke-width="2.0"/><line x1="511.51" y1="302.80" x2="511.51" y2="295.80" stroke="#1a1a1a" stroke-width="2.0"/><line x1="511.51" y1="5.70" x2="511.51" y2="12.70" stroke="#1a1a1a" stroke-width="2.0"/><line x1="615.60" y1="302.80" x2="615.60" y2="295.80" stroke="#1a1a1a" stroke-width="2.0"/><line x1="615.60" y1="5.70" x2="615.60" y2="12.70" stroke="#1a1a1a" stroke-width="2.0"/><rect x="52.0" y="335.3" width="579.5" height="188.8" fill="none" stroke="#1a1a1a" stroke-width="2.0"/><line x1="94.00" y1="524.10" x2="94.00" y2="517.10" stroke="#1a1a1a" stroke-width="2.0"/><line x1="94.00" y1="335.30" x2="94.00" y2="342.30" stroke="#1a1a1a" stroke-width="2.0"/><line x1="198.09" y1="524.10" x2="198.09" y2="517.10" stroke="#1a1a1a" stroke-width="2.0"/><line x1="198.09" y1="335.30" x2="198.09" y2="342.30" stroke="#1a1a1a" stroke-width="2.0"/><line x1="303.33" y1="524.10" x2="303.33" y2="517.10" stroke="#1a1a1a" stroke-width="2.0"/><line x1="303.33" y1="335.30" x2="303.33" y2="342.30" stroke="#1a1a1a" stroke-width="2.0"/><line x1="408.56" y1="524.10" x2="408.56" y2="517.10" stroke="#1a1a1a" stroke-width="2.0"/><line x1="408.56" y1="335.30" x2="408.56" y2="342.30" stroke="#1a1a1a" stroke-width="2.0"/><line x1="511.51" y1="524.10" x2="511.51" y2="517.10" stroke="#1a1a1a" stroke-width="2.0"/><line x1="511.51" y1="335.30" x2="511.51" y2="342.30" stroke="#1a1a1a" stroke-width="2.0"/><line x1="615.60" y1="524.10" x2="615.60" y2="517.10" stroke="#1a1a1a" stroke-width="2.0"/><line x1="615.60" y1="335.30" x2="615.60" y2="342.30" stroke="#1a1a1a" stroke-width="2.0"/><rect x="52.0" y="549.5" width="579.5" height="131.39999999999998" fill="none" stroke="#1a1a1a" stroke-width="2.0"/><line x1="94.00" y1="680.90" x2="94.00" y2="673.90" stroke="#1a1a1a" stroke-width="2.0"/><line x1="94.00" y1="549.50" x2="94.00" y2="556.50" stroke="#1a1a1a" stroke-width="2.0"/><line x1="198.09" y1="680.90" x2="198.09" y2="673.90" stroke="#1a1a1a" stroke-width="2.0"/><line x1="198.09" y1="549.50" x2="198.09" y2="556.50" stroke="#1a1a1a" stroke-width="2.0"/><line x1="303.33" y1="680.90" x2="303.33" y2="673.90" stroke="#1a1a1a" stroke-width="2.0"/><line x1="303.33" y1="549.50" x2="303.33" y2="556.50" stroke="#1a1a1a" stroke-width="2.0"/><line x1="408.56" y1="680.90" x2="408.56" y2="673.90" stroke="#1a1a1a" stroke-width="2.0"/><line x1="408.56" y1="549.50" x2="408.56" y2="556.50" stroke="#1a1a1a" stroke-width="2.0"/><line x1="511.51" y1="680.90" x2="511.51" y2="673.90" stroke="#1a1a1a" stroke-width="2.0"/><line x1="511.51" y1="549.50" x2="511.51" y2="556.50" stroke="#1a1a1a" stroke-width="2.0"/><line x1="615.60" y1="680.90" x2="615.60" y2="673.90" stroke="#1a1a1a" stroke-width="2.0"/><line x1="615.60" y1="549.50" x2="615.60" y2="556.50" stroke="#1a1a1a" stroke-width="2.0"/><path d="M56.20 5.7h1.80V99.4h-1.80ZM58.10 5.7h1.80V110.4h-1.80ZM59.20 5.7h1.80V42.0h-1.80ZM60.30 5.7h1.80V23.6h-1.80ZM62.50 5.7h1.80V34.5h-1.80ZM65.40 5.7h1.80V62.4h-1.80ZM68.60 5.7h1.80V7.6h-1.80ZM83.50 5.7h1.80V46.4h-1.80ZM85.20 5.7h1.80V55.6h-1.80ZM86.30 5.7h1.80V112.0h-1.80ZM87.40 5.7h1.80V75.8h-1.80ZM88.70 5.7h1.80V18.5h-1.80ZM90.70 5.7h1.80V62.4h-1.80ZM92.10 5.7h1.80V11.8h-1.80ZM94.00 5.7h1.80V102.0h-1.80ZM95.60 5.7h1.80V7.6h-1.80ZM97.40 5.7h1.80V10.0h-1.80ZM98.90 5.7h1.80V34.5h-1.80ZM100.60 5.7h1.80V38.8h-1.80ZM102.40 5.7h1.80V48.9h-1.80ZM104.70 5.7h1.80V26.1h-1.80ZM106.40 5.7h1.80V21.0h-1.80ZM108.10 5.7h1.80V17.7h-1.80ZM109.80 5.7h1.80V11.8h-1.80ZM114.30 5.7h1.80V11.8h-1.80ZM124.10 5.7h1.80V26.0h-1.80ZM125.80 5.7h1.80V17.0h-1.80ZM127.50 5.7h1.80V43.0h-1.80ZM129.60 5.7h1.80V79.2h-1.80ZM131.70 5.7h1.80V14.3h-1.80ZM134.80 5.7h1.80V64.0h-1.80ZM136.50 5.7h1.80V17.7h-1.80ZM138.50 5.7h1.80V26.1h-1.80ZM140.10 5.7h1.80V22.0h-1.80ZM146.90 5.7h1.80V17.0h-1.80ZM148.40 5.7h1.80V44.7h-1.80ZM150.10 5.7h1.80V78.4h-1.80ZM151.50 5.7h1.80V32.0h-1.80ZM152.90 5.7h1.80V10.0h-1.80ZM158.40 5.7h1.80V12.6h-1.80ZM172.10 5.7h1.80V16.0h-1.80ZM174.10 5.7h1.80V36.2h-1.80ZM175.60 5.7h1.80V23.6h-1.80ZM177.40 5.7h1.80V37.9h-1.80ZM179.30 5.7h1.80V15.2h-1.80ZM183.10 5.7h1.80V22.0h-1.80ZM184.40 5.7h1.80V140.0h-1.80ZM185.80 5.7h1.80V20.2h-1.80ZM188.10 5.7h1.80V16.0h-1.80ZM190.10 5.7h1.80V20.2h-1.80ZM192.10 5.7h1.80V12.6h-1.80ZM194.20 5.7h1.80V63.2h-1.80ZM195.90 5.7h1.80V81.0h-1.80ZM197.60 5.7h1.80V55.6h-1.80ZM199.30 5.7h1.80V10.0h-1.80ZM201.30 5.7h1.80V16.9h-1.80ZM202.60 5.7h1.80V37.0h-1.80ZM204.30 5.7h1.80V15.2h-1.80ZM206.10 5.7h1.80V84.3h-1.80ZM207.70 5.7h1.80V74.2h-1.80ZM209.40 5.7h1.80V12.6h-1.80ZM212.40 5.7h1.80V36.2h-1.80ZM214.10 5.7h1.80V31.2h-1.80ZM218.70 5.7h1.80V10.0h-1.80ZM220.70 5.7h1.80V54.8h-1.80ZM222.40 5.7h1.80V12.6h-1.80ZM224.10 5.7h1.80V16.0h-1.80ZM225.60 5.7h1.80V21.0h-1.80ZM226.90 5.7h1.80V30.3h-1.80ZM228.40 5.7h1.80V16.9h-1.80ZM230.10 5.7h1.80V22.0h-1.80ZM233.50 5.7h1.80V22.0h-1.80ZM234.90 5.7h1.80V33.7h-1.80ZM236.40 5.7h1.80V51.4h-1.80ZM238.10 5.7h1.80V15.2h-1.80ZM240.60 5.7h1.80V27.0h-1.80ZM242.30 5.7h1.80V13.5h-1.80ZM244.80 5.7h1.80V12.6h-1.80ZM246.50 5.7h1.80V66.6h-1.80ZM248.20 5.7h1.80V15.2h-1.80ZM250.80 5.7h1.80V16.9h-1.80ZM251.60 5.7h1.80V59.8h-1.80ZM253.30 5.7h1.80V77.5h-1.80ZM255.00 5.7h1.80V78.4h-1.80ZM256.70 5.7h1.80V79.2h-1.80ZM258.40 5.7h1.80V44.7h-1.80ZM260.10 5.7h1.80V20.2h-1.80ZM261.70 5.7h1.80V16.0h-1.80ZM263.40 5.7h1.80V11.0h-1.80ZM266.80 5.7h1.80V17.7h-1.80ZM268.50 5.7h1.80V35.4h-1.80ZM271.10 5.7h1.80V54.0h-1.80ZM272.70 5.7h1.80V30.3h-1.80ZM274.40 5.7h1.80V47.2h-1.80ZM276.10 5.7h1.80V35.4h-1.80ZM277.80 5.7h1.80V75.0h-1.80ZM279.40 5.7h1.80V34.5h-1.80ZM281.10 5.7h1.80V36.2h-1.80ZM282.80 5.7h1.80V13.5h-1.80ZM284.50 5.7h1.80V13.5h-1.80ZM286.10 5.7h1.80V10.0h-1.80ZM288.70 5.7h1.80V27.0h-1.80ZM290.40 5.7h1.80V15.2h-1.80ZM292.10 5.7h1.80V39.6h-1.80ZM293.80 5.7h1.80V33.7h-1.80ZM295.50 5.7h1.80V81.0h-1.80ZM297.10 5.7h1.80V62.4h-1.80ZM298.80 5.7h1.80V18.5h-1.80ZM299.70 5.7h1.80V59.8h-1.80ZM301.30 5.7h1.80V32.0h-1.80ZM303.90 5.7h1.80V13.5h-1.80ZM306.00 5.7h1.80V57.3h-1.80ZM309.60 5.7h1.80V7.0h-1.80ZM311.60 5.7h1.80V7.0h-1.80ZM313.60 5.7h1.80V7.0h-1.80ZM318.00 5.7h1.80V48.9h-1.80ZM319.70 5.7h1.80V28.7h-1.80ZM320.60 5.7h1.80V105.3h-1.80ZM322.10 5.7h1.80V28.7h-1.80ZM323.50 5.7h1.80V10.0h-1.80ZM331.40 5.7h1.80V26.1h-1.80ZM333.10 5.7h1.80V23.6h-1.80ZM334.80 5.7h1.80V11.8h-1.80ZM341.40 5.7h1.80V16.9h-1.80ZM343.10 5.7h1.80V10.0h-1.80ZM346.50 5.7h1.80V43.0h-1.80ZM348.20 5.7h1.80V48.9h-1.80ZM349.90 5.7h1.80V97.8h-1.80ZM351.60 5.7h1.80V16.0h-1.80ZM353.30 5.7h1.80V22.0h-1.80ZM355.00 5.7h1.80V30.3h-1.80ZM356.90 5.7h1.80V121.4h-1.80ZM358.30 5.7h1.80V24.4h-1.80ZM360.00 5.7h1.80V15.2h-1.80ZM378.60 5.7h1.80V22.0h-1.80ZM379.90 5.7h1.80V22.0h-1.80ZM381.60 5.7h1.80V11.8h-1.80ZM385.80 5.7h1.80V43.0h-1.80ZM387.50 5.7h1.80V47.2h-1.80ZM389.20 5.7h1.80V56.5h-1.80ZM394.30 5.7h1.80V60.7h-1.80ZM396.00 5.7h1.80V55.6h-1.80ZM397.60 5.7h1.80V118.8h-1.80ZM399.30 5.7h1.80V37.9h-1.80ZM401.00 5.7h1.80V28.7h-1.80ZM407.10 5.7h1.80V75.0h-1.80ZM413.60 5.7h1.80V69.1h-1.80ZM415.30 5.7h1.80V16.9h-1.80ZM417.90 5.7h1.80V61.5h-1.80ZM419.60 5.7h1.80V13.5h-1.80ZM421.30 5.7h1.80V34.6h-1.80ZM423.00 5.7h1.80V9.3h-1.80ZM424.70 5.7h1.80V7.6h-1.80ZM428.80 5.7h1.80V7.6h-1.80ZM433.90 5.7h1.80V16.0h-1.80ZM435.60 5.7h1.80V28.7h-1.80ZM437.30 5.7h1.80V30.3h-1.80ZM438.90 5.7h1.80V30.3h-1.80ZM440.60 5.7h1.80V23.6h-1.80ZM442.30 5.7h1.80V18.5h-1.80ZM444.00 5.7h1.80V20.2h-1.80ZM445.70 5.7h1.80V25.3h-1.80ZM446.90 5.7h1.80V30.0h-1.80ZM447.90 5.7h1.80V34.6h-1.80ZM449.70 5.7h1.80V84.3h-1.80ZM451.30 5.7h1.80V11.8h-1.80ZM459.30 5.7h1.80V16.9h-1.80ZM461.00 5.7h1.80V24.4h-1.80ZM462.60 5.7h1.80V10.0h-1.80ZM465.20 5.7h1.80V36.2h-1.80ZM466.90 5.7h1.80V61.5h-1.80ZM468.10 5.7h1.80V95.2h-1.80ZM469.70 5.7h1.80V41.3h-1.80ZM471.40 5.7h1.80V40.5h-1.80ZM472.60 5.7h1.80V141.8h-1.80ZM474.40 5.7h1.80V26.1h-1.80ZM476.10 5.7h1.80V55.6h-1.80ZM477.90 5.7h1.80V259.2h-1.80ZM479.50 5.7h1.80V21.0h-1.80ZM481.20 5.7h1.80V46.4h-1.80ZM482.90 5.7h1.80V72.5h-1.80ZM484.60 5.7h1.80V11.8h-1.80ZM487.40 5.7h1.80V24.4h-1.80ZM489.10 5.7h1.80V11.0h-1.80ZM491.60 5.7h1.80V13.5h-1.80ZM493.30 5.7h1.80V39.6h-1.80ZM494.50 5.7h1.80V138.1h-1.80ZM496.70 5.7h1.80V33.7h-1.80ZM498.40 5.7h1.80V36.2h-1.80ZM499.50 5.7h1.80V55.6h-1.80ZM500.90 5.7h1.80V13.5h-1.80ZM507.30 5.7h1.80V15.2h-1.80ZM508.70 5.7h1.80V41.3h-1.80ZM509.90 5.7h1.80V82.6h-1.80ZM511.50 5.7h1.80V25.3h-1.80ZM513.70 5.7h1.80V56.0h-1.80ZM526.00 5.7h1.80V17.7h-1.80ZM528.40 5.7h1.80V12.6h-1.80ZM539.10 5.7h1.80V8.4h-1.80ZM543.60 5.7h1.80V13.5h-1.80ZM558.80 5.7h1.80V46.4h-1.80ZM560.50 5.7h1.80V32.0h-1.80ZM561.70 5.7h1.80V93.8h-1.80ZM563.60 5.7h1.80V16.9h-1.80ZM565.30 5.7h1.80V23.6h-1.80ZM567.00 5.7h1.80V13.5h-1.80ZM568.20 5.7h1.80V21.0h-1.80ZM569.80 5.7h1.80V11.8h-1.80ZM574.10 5.7h1.80V29.5h-1.80ZM575.40 5.7h1.80V74.2h-1.80ZM576.70 5.7h1.80V9.3h-1.80ZM578.10 5.7h1.80V8.4h-1.80ZM580.90 5.7h1.80V32.0h-1.80ZM582.60 5.7h1.80V33.7h-1.80ZM584.40 5.7h1.80V85.1h-1.80ZM586.00 5.7h1.80V33.7h-1.80ZM587.60 5.7h1.80V39.6h-1.80ZM589.30 5.7h1.80V63.2h-1.80ZM591.00 5.7h1.80V63.2h-1.80ZM592.70 5.7h1.80V36.2h-1.80ZM594.40 5.7h1.80V16.9h-1.80ZM596.00 5.7h1.80V35.4h-1.80ZM597.70 5.7h1.80V11.8h-1.80ZM603.60 5.7h1.80V15.2h-1.80ZM605.30 5.7h1.80V46.4h-1.80ZM607.00 5.7h1.80V31.2h-1.80ZM608.70 5.7h1.80V23.6h-1.80ZM610.00 5.7h1.80V123.8h-1.80ZM611.70 5.7h1.80V23.6h-1.80ZM613.40 5.7h1.80V12.6h-1.80ZM618.00 5.7h1.80V40.5h-1.80ZM620.50 5.7h1.80V8.4h-1.80ZM623.90 5.7h1.80V7.6h-1.80ZM628.20 5.7h1.80V9.3h-1.80ZM629.80 5.7h1.80V25.3h-1.80Z" fill="#4dbeee" clip-path="url(#ca)"/><line x1="52.00" y1="302.80" x2="59.00" y2="302.80" stroke="#1a1a1a" stroke-width="2.0"/><text x="44.60" y="310.90" text-anchor="end">0</text><line x1="52.00" y1="253.28" x2="59.00" y2="253.28" stroke="#1a1a1a" stroke-width="2.0"/><text x="44.60" y="261.38" text-anchor="end">1</text><line x1="52.00" y1="203.77" x2="59.00" y2="203.77" stroke="#1a1a1a" stroke-width="2.0"/><text x="44.60" y="211.87" text-anchor="end">2</text><line x1="52.00" y1="154.25" x2="59.00" y2="154.25" stroke="#1a1a1a" stroke-width="2.0"/><text x="44.60" y="162.35" text-anchor="end">3</text><line x1="52.00" y1="104.73" x2="59.00" y2="104.73" stroke="#1a1a1a" stroke-width="2.0"/><text x="44.60" y="112.83" text-anchor="end">4</text><line x1="52.00" y1="55.22" x2="59.00" y2="55.22" stroke="#1a1a1a" stroke-width="2.0"/><text x="44.60" y="63.32" text-anchor="end">5</text><line x1="52.00" y1="5.70" x2="59.00" y2="5.70" stroke="#1a1a1a" stroke-width="2.0"/><text x="44.60" y="13.80" text-anchor="end">6</text><line x1="631.50" y1="5.70" x2="624.50" y2="5.70" stroke="#1a1a1a" stroke-width="2.0"/><text x="638.30" y="13.80">0</text><line x1="631.50" y1="55.22" x2="624.50" y2="55.22" stroke="#1a1a1a" stroke-width="2.0"/><text x="638.30" y="63.32">10</text><line x1="631.50" y1="104.73" x2="624.50" y2="104.73" stroke="#1a1a1a" stroke-width="2.0"/><text x="638.30" y="112.83">20</text><line x1="631.50" y1="154.25" x2="624.50" y2="154.25" stroke="#1a1a1a" stroke-width="2.0"/><text x="638.30" y="162.35">30</text><line x1="631.50" y1="203.77" x2="624.50" y2="203.77" stroke="#1a1a1a" stroke-width="2.0"/><text x="638.30" y="211.87">40</text><line x1="631.50" y1="253.28" x2="624.50" y2="253.28" stroke="#1a1a1a" stroke-width="2.0"/><text x="638.30" y="261.38">50</text><line x1="631.50" y1="302.80" x2="624.50" y2="302.80" stroke="#1a1a1a" stroke-width="2.0"/><text x="638.30" y="310.90">60</text><line x1="52.00" y1="524.10" x2="59.00" y2="524.10" stroke="#1a1a1a" stroke-width="2.0"/><text x="44.60" y="532.20" text-anchor="end">1</text><line x1="52.00" y1="486.34" x2="59.00" y2="486.34" stroke="#1a1a1a" stroke-width="2.0"/><text x="44.60" y="494.44" text-anchor="end">2</text><line x1="52.00" y1="448.58" x2="59.00" y2="448.58" stroke="#1a1a1a" stroke-width="2.0"/><text x="44.60" y="456.68" text-anchor="end">3</text><line x1="52.00" y1="410.82" x2="59.00" y2="410.82" stroke="#1a1a1a" stroke-width="2.0"/><text x="44.60" y="418.92" text-anchor="end">4</text><line x1="52.00" y1="373.06" x2="59.00" y2="373.06" stroke="#1a1a1a" stroke-width="2.0"/><text x="44.60" y="381.16" text-anchor="end">5</text><line x1="52.00" y1="335.30" x2="59.00" y2="335.30" stroke="#1a1a1a" stroke-width="2.0"/><text x="44.60" y="343.40" text-anchor="end">6</text><line x1="631.50" y1="503.12" x2="624.50" y2="503.12" stroke="#1a1a1a" stroke-width="2.0"/><text x="638.30" y="511.22">0</text><line x1="631.50" y1="461.17" x2="624.50" y2="461.17" stroke="#1a1a1a" stroke-width="2.0"/><text x="638.30" y="469.27">2</text><line x1="631.50" y1="419.21" x2="624.50" y2="419.21" stroke="#1a1a1a" stroke-width="2.0"/><text x="638.30" y="427.31">4</text><line x1="631.50" y1="377.26" x2="624.50" y2="377.26" stroke="#1a1a1a" stroke-width="2.0"/><text x="638.30" y="385.36">6</text><line x1="631.50" y1="335.30" x2="624.50" y2="335.30" stroke="#1a1a1a" stroke-width="2.0"/><text x="638.30" y="343.40">8</text><line x1="52.00" y1="657.90" x2="59.00" y2="657.90" stroke="#1a1a1a" stroke-width="2.0"/><text x="44.60" y="666.00" text-anchor="end">10</text><line x1="52.00" y1="589.51" x2="59.00" y2="589.51" stroke="#1a1a1a" stroke-width="2.0"/><text x="44.60" y="597.61" text-anchor="end">20</text><line x1="52.00" y1="549.50" x2="59.00" y2="549.50" stroke="#1a1a1a" stroke-width="2.0"/><text x="44.60" y="557.60" text-anchor="end">30</text><line x1="52.00" y1="639.91" x2="55.50" y2="639.91" stroke="#1a1a1a" stroke-width="2.0"/><line x1="52.00" y1="624.70" x2="55.50" y2="624.70" stroke="#1a1a1a" stroke-width="2.0"/><line x1="52.00" y1="611.53" x2="55.50" y2="611.53" stroke="#1a1a1a" stroke-width="2.0"/><line x1="52.00" y1="599.90" x2="55.50" y2="599.90" stroke="#1a1a1a" stroke-width="2.0"/><line x1="52.00" y1="580.10" x2="55.50" y2="580.10" stroke="#1a1a1a" stroke-width="2.0"/><line x1="52.00" y1="571.52" x2="55.50" y2="571.52" stroke="#1a1a1a" stroke-width="2.0"/><line x1="52.00" y1="563.62" x2="55.50" y2="563.62" stroke="#1a1a1a" stroke-width="2.0"/><line x1="52.00" y1="556.31" x2="55.50" y2="556.31" stroke="#1a1a1a" stroke-width="2.0"/><text x="93.50" y="708.00" text-anchor="middle">Apr 2016</text><text x="197.59" y="708.00" text-anchor="middle">Jul 2016</text><text x="302.83" y="708.00" text-anchor="middle">Oct 2016</text><text x="408.06" y="708.00" text-anchor="middle">Jan 2017</text><text x="511.01" y="708.00" text-anchor="middle">Apr 2017</text><text x="615.10" y="708.00" text-anchor="middle">Jul 2017</text><path d="M55 322.1L63.6 330.7M63.6 322.1L55 330.7" stroke="#000" stroke-width="1.35" fill="none"/><text x="68.10" y="330.60">10</text><text x="88.30" y="321.00" style="font-size:15.3px">4</text><text transform="translate(21,160.4) rotate(-90)" text-anchor="middle">GW discharge [m<tspan style="font-size:14.5px" dy="-9.8" dx="0.4">3</tspan><tspan dy="9.8" dx="0.3">/s]</tspan></text><text transform="translate(681,157.8) rotate(-90)" text-anchor="middle">Rain [mm/d]</text><text transform="translate(21,426.7) rotate(-90)" text-anchor="middle">EC [&#181;S/cm]</text><text transform="translate(677,424) rotate(-90)" text-anchor="middle">ET [mm/d]</text><text transform="translate(13.7,615.3) rotate(-90)" text-anchor="middle">Head [masl]</text><text x="591.50" y="278.00" text-anchor="middle">(a)</text><text x="594.10" y="516.20" text-anchor="middle">(b)</text><rect x="585.5" y="553.5" width="21" height="20" fill="#fff"/><text x="596.10" y="568.60" text-anchor="middle">(c)</text><rect x="71.2" y="127.9" width="147.8" height="46.1" fill="#fff" stroke="#1a1a1a" stroke-width="1.7"/><line x1="75.60" y1="140.80" x2="111.60" y2="140.80" stroke="#000" stroke-width="1.8"/><rect x="75.8" y="153.7" width="35.9" height="16" fill="#4dbeee"/><text x="115.40" y="146.70" style="font-size:15.9px">GW discharge</text><text x="115.40" y="168.10" style="font-size:15.9px">Rain</text><rect x="73.4" y="499.1" width="137.1" height="24.7" fill="#fff" stroke="#1a1a1a" stroke-width="1.7"/><line x1="77.90" y1="511.80" x2="114.10" y2="511.80" stroke="#4dbeee" stroke-width="1.8"/><line x1="146.40" y1="511.80" x2="182.00" y2="511.80" stroke="#d95319" stroke-width="1.8"/><text x="118.20" y="517.60" style="font-size:15.9px">EC</text><text x="185.90" y="517.60" style="font-size:15.9px">ET</text>
</svg></body></html>
